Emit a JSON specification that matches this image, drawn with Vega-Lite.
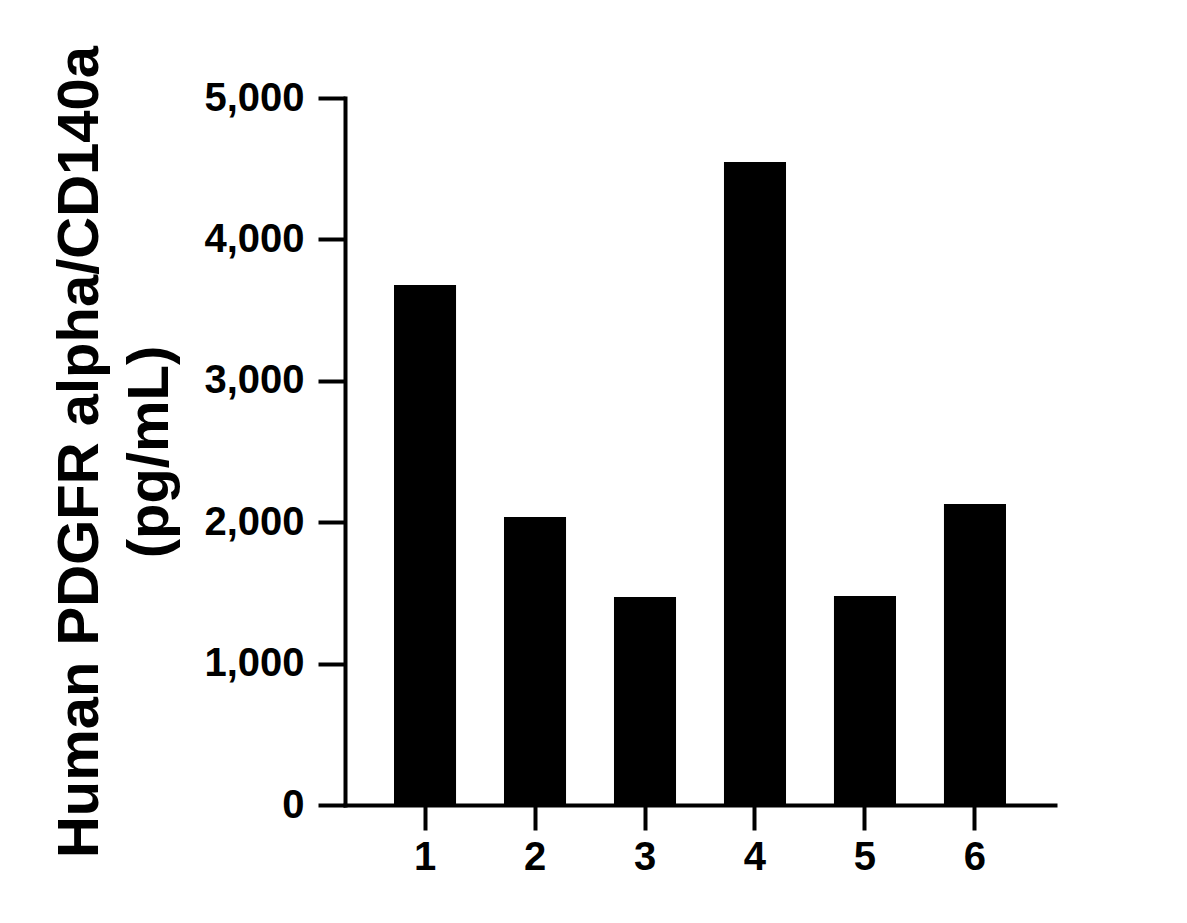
{
  "$schema": "https://vega.github.io/schema/vega-lite/v6.json",
  "autosize": "none",
  "width": 710,
  "height": 707,
  "padding": {"left": 345, "top": 98, "right": 132, "bottom": 118},
  "background": "white",
  "config": {
    "view": {"stroke": null},
    "font": "Liberation Sans",
    "axis": {
      "labelFont": "Liberation Sans",
      "labelFontWeight": "bold",
      "labelFontSize": 40,
      "labelColor": "black",
      "titleFont": "Liberation Sans",
      "titleFontWeight": "bold",
      "titleColor": "black",
      "domainColor": "black",
      "domainWidth": 4,
      "domainCap": "square",
      "tickColor": "black",
      "tickWidth": 4,
      "grid": false
    }
  },
  "data": {
    "values": [
      {"sample": "1", "value": 3677},
      {"sample": "2", "value": 2037},
      {"sample": "3", "value": 1471},
      {"sample": "4", "value": 4547},
      {"sample": "5", "value": 1478},
      {"sample": "6", "value": 2129}
    ]
  },
  "mark": {"type": "bar", "color": "black"},
  "encoding": {
    "x": {
      "field": "sample",
      "type": "nominal",
      "sort": null,
      "scale": {"paddingInner": 0.436, "paddingOuter": 0.4455},
      "axis": {
        "title": null,
        "labelAngle": 0,
        "tickSize": 25,
        "labelPadding": 7
      }
    },
    "y": {
      "field": "value",
      "type": "quantitative",
      "scale": {"domain": [0, 5000], "nice": false},
      "axis": {
        "values": [0, 1000, 2000, 3000, 4000, 5000],
        "format": ",d",
        "tickSize": 27,
        "labelPadding": 14,
        "title": ["Human PDGFR alpha/CD140a", "(pg/mL)"],
        "titleFontSize": 58,
        "titleLineHeight": 70,
        "titlePadding": 24
      }
    }
  }
}
